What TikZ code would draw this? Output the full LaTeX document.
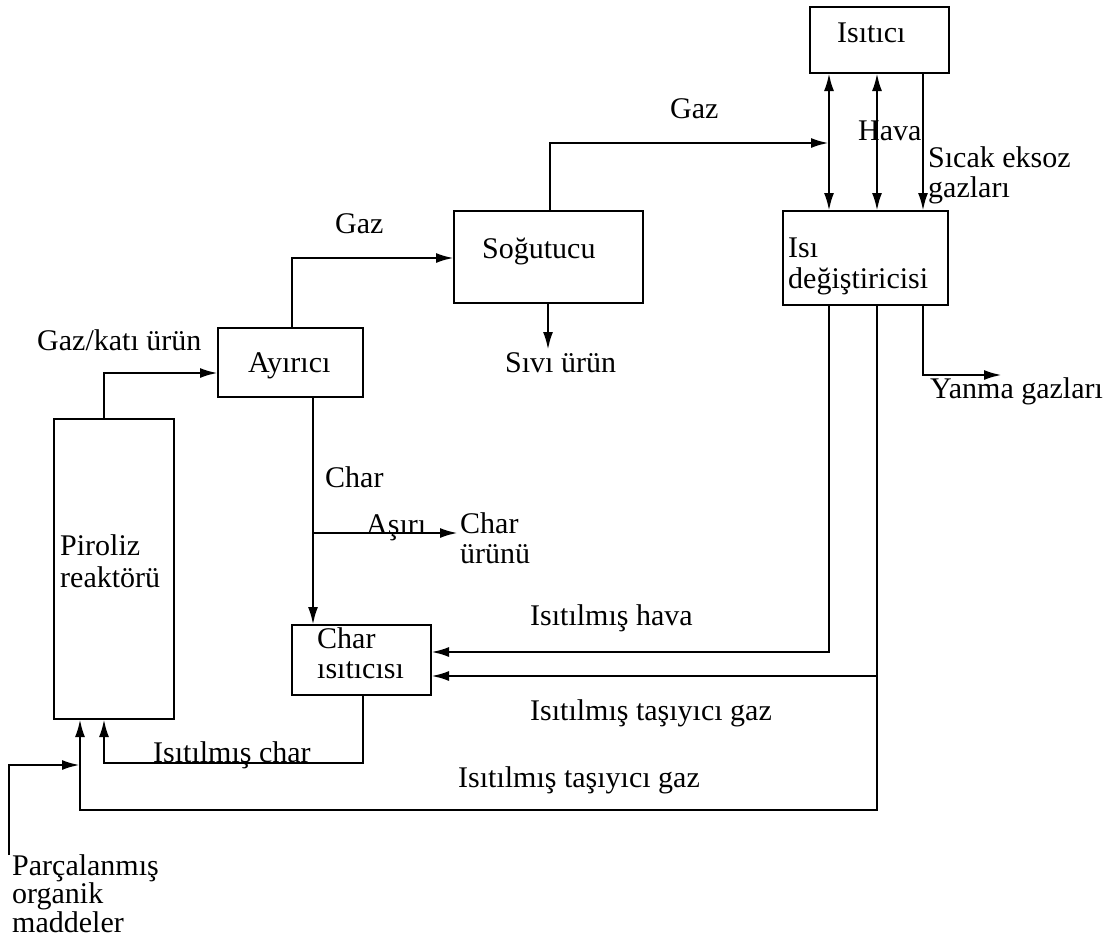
\documentclass[tikz,border=0pt]{standalone}
\usepackage{fontspec}
\setmainfont{Liberation Serif}
\usetikzlibrary{arrows.meta}
\begin{document}
\begin{tikzpicture}[x=1pt,y=-1pt,
  unit/.style={draw, line width=2.8pt, inner sep=0pt, outer sep=0pt, anchor=north west},
  txt/.style={inner sep=0pt, anchor=base west, font=\fontsize{30}{30}\selectfont},
  pipe/.style={line width=2.6pt},
  flow/.style={pipe, -{Latex[length=18pt,width=10pt]}},
  flowboth/.style={pipe, {Latex[length=18pt,width=10pt]}-{Latex[length=18pt,width=10pt]}}]
\useasboundingbox (0,0) rectangle (1110,948);

% process units
\node[unit, minimum width=120pt, minimum height=300pt] (pyro)   at (54,419)  {};
\node[unit, minimum width=145pt, minimum height=69pt]  (sep)    at (218,328) {};
\node[unit, minimum width=189pt, minimum height=92pt]  (cool)   at (454,211) {};
\node[unit, minimum width=139pt, minimum height=66pt]  (heater) at (810,7)   {};
\node[unit, minimum width=165pt, minimum height=94pt]  (hx)     at (783,211) {};
\node[unit, minimum width=139pt, minimum height=70pt]  (charh)  at (292,625) {};

% unit names
\node[txt] (tpyro1) at (60,555) {Piroliz};
\node[txt] (tpyro2) at (60,587) {reaktörü};
\node[txt] (tsep) at (248,372) {Ayırıcı};
\node[txt] (tcool) at (482,258) {Soğutucu};
\node[txt] (theater) at (837,42) {Isıtıcı};
\node[txt] (thx1) at (788,257) {Isı};
\node[txt] (thx2) at (788,288) {değiştiricisi};
\node[txt] (tch1) at (317,648) {Char};
\node[txt] (tch2) at (317,678) {ısıtıcısı};

% stream labels
\node[txt] (lgs) at (37,350) {Gaz/katı ürün};
\node[txt] (lgas1) at (335,233) {Gaz};
\node[txt] (lgas2) at (670,118) {Gaz};
\node[txt] (lair) at (858,140) {Hava};
\node[txt] (lexh1) at (928,167) {Sıcak eksoz};
\node[txt] (lexh2) at (928,197) {gazları};
\node[txt] (lliq) at (505,372) {Sıvı ürün};
\node[txt] (lflue) at (930,398) {Yanma gazları};
\node[txt] (lchar) at (325,487) {Char};
\node[txt] (lexc) at (366,534) {Aşırı};
\node[txt] (lprod1) at (460,533) {Char};
\node[txt] (lprod2) at (460,563) {ürünü};
\node[txt] (lhair) at (530,625) {Isıtılmış hava};
\node[txt] (lcg1) at (530,720) {Isıtılmış taşıyıcı gaz};
\node[txt] (lcg2) at (458,787) {Isıtılmış taşıyıcı gaz};
\node[txt] (lhchar) at (153,762) {Isıtılmış char};
\node[txt] (lfeed1) at (12,875) {Parçalanmış};
\node[txt] (lfeed2) at (12,903) {organik};
\node[txt] (lfeed3) at (12,932) {maddeler};

% junctions and bends
\coordinate (j1) at (104,373);
\coordinate (j2) at (292,258);
\coordinate (j3) at (550,143);
\coordinate (hA) at (829,143);
\coordinate (hB) at (877,143);
\coordinate (hC) at (923,143);
\coordinate (j4) at (923,375);
\coordinate (flueend) at (1002,375);
\coordinate (j5) at (829,652);
\coordinate (j6) at (877,810);
\coordinate (j7) at (877,676);
\coordinate (j8) at (80,810);
\coordinate (j9) at (313,533);
\coordinate (excend) at (458,533);
\coordinate (j10) at (363,763);
\coordinate (j11) at (104,763);
\coordinate (f1) at (9,855);
\coordinate (f2) at (9,765);
\coordinate (f3) at (80,765);
\coordinate (liqend) at (548,350);

% gas / solid product to separator
\draw[flow] (pyro.north -| j1) -- (j1) -- (sep.west |- j1);
% gas to cooler
\draw[flow] (sep.north -| j2) -- (j2) -- (cool.west |- j2);
% gas from cooler to heat exchanger circuit
\draw[flow] (cool.north -| j3) -- (j3) -- (hA);
% liquid product
\draw[flow] (cool.south -| liqend) -- (liqend);
% heater <-> heat exchanger
\draw[flowboth] (heater.south -| hA) -- (hx.north -| hA);
\draw[flowboth] (heater.south -| hB) -- (hx.north -| hB);
\draw[flow] (heater.south -| hC) -- (hx.north -| hC);
% flue gases
\draw[flow] (hx.south -| j4) -- (j4) -- (flueend);
% heated air to char heater
\draw[flow] (hx.south -| j5) -- (j5) -- (charh.east |- j5);
% heated carrier gas
\draw[flow] (hx.south -| j6) -- (j6) -- (j8) -- (pyro.south -| j8);
\draw[flow] (j7) -- (charh.east |- j7);
% char from separator
\draw[flow] (sep.south -| j9) -- (charh.north -| j9);
\draw[flow] (j9) -- (excend);
% heated char back to reactor
\draw[flow] (charh.south -| j10) -- (j10) -- (j11) -- (pyro.south -| j11);
% feed
\draw[flow] (f1) -- (f2) -- (f3);
\end{tikzpicture}
\end{document}
